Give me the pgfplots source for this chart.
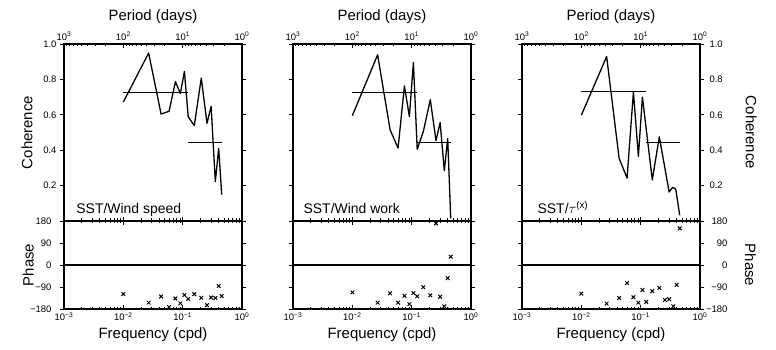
\documentclass[border=0pt]{standalone}
\usepackage{fontspec}
\setmainfont{Liberation Sans}
\usepackage{pgfplots}
\pgfplotsset{compat=1.18}
\pgfplotsset{
  mybase/.style={scale only axis, width=178bp, anchor=south west,
    axis line style={line width=1.1bp},
    every tick/.style={black, line width=0.9bp},
    major tick length=4bp, minor tick length=2.5bp,
    tick label style={font=\fontsize{9.5}{11}\selectfont},
    every axis label/.append style={font=\fontsize{15}{17}\selectfont}},
  mycoh/.style={mybase, height=177bp, ymin=0, ymax=1, xtick=\empty,
    ytick={0.2,0.4,0.6,0.8,1.0}, yticklabels={0.2,0.4,0.6,0.8,1.0},
    tick align=outside, ytick pos=both},
  mypha/.style={mybase, height=88bp, ymin=-180, ymax=180, xtick=\empty,
    ytick={-180,-90,0,90,180}, yticklabels={−180,−90,0,90,180},
    tick align=outside, ytick pos=both},
  myft/.style={mybase, ytick=\empty, tick align=inside,
    xtick={0.001,0.01,0.1,1},
    minor xtick={0.002,0.003,0.004,0.005,0.006,0.007,0.008,0.009,
      0.02,0.03,0.04,0.05,0.06,0.07,0.08,0.09,
      0.2,0.3,0.4,0.5,0.6,0.7,0.8,0.9}},
  mypt/.style={mybase, height=177bp,
    ymin=0, ymax=1, ytick=\empty, tick align=inside,
    xtick pos=right, xticklabel pos=right,
    xtick={1,10,100,1000},
    xticklabels={10\textsuperscript{0},10\textsuperscript{1},10\textsuperscript{2},10\textsuperscript{3}},
    minor xtick={2,3,4,5,6,7,8,9,20,30,40,50,60,70,80,90,200,300,400,500,600,700,800,900},
    xlabel={Period (days)},
    xlabel style={at={(rel axis cs:0.5,1.153)}, anchor=center}},
  mydline/.style={black, line width=1.3bp, mark=none, line join=round},
  mydmark/.style={black, only marks, mark=x, mark size=2.6bp, mark options={line width=1.0bp}},
  mysig/.style={black, line width=1.1bp, mark=none}
}
\begin{document}
\begin{tikzpicture}
\path[use as bounding box] (0,0) rectangle (776bp,350bp);

% ================= Panel 1 =================
\begin{axis}[mycoh, xmode=log, xmin=0.001, xmax=1, at={(64bp,129bp)}, yticklabel pos=left,
  ylabel={Coherence}, ylabel style={at={(rel axis cs:-0.208,0.5)}, anchor=center}]
\addplot[mydline] coordinates {(0.01,0.672) (0.0267,0.949) (0.0433,0.604) (0.059,0.62)
  (0.0755,0.787) (0.0915,0.72) (0.107,0.845) (0.124,0.589) (0.157,0.539) (0.206,0.808)
  (0.257,0.552) (0.302,0.647) (0.355,0.222) (0.405,0.411) (0.455,0.149)};
\addplot[mysig] coordinates {(0.01,0.727) (0.124,0.727)};
\addplot[mysig] coordinates {(0.124,0.443) (0.455,0.443)};
\node[anchor=base west, font=\fontsize{14}{16}\selectfont] at (rel axis cs:0.05,0.04) {SST/Wind speed};
\end{axis}
\begin{axis}[myft, xmode=log, xmin=0.001, xmax=1, height=177bp, at={(64bp,129bp)}, xtick pos=left, xticklabels={}, ymin=0, ymax=1]
\end{axis}
\begin{axis}[mypt, xmode=log, xmin=1, xmax=1000, x dir=reverse, at={(64bp,129bp)}]
\end{axis}
\begin{axis}[mypha, xmode=log, xmin=0.001, xmax=1, at={(64bp,41bp)}, yticklabel pos=left,
  yticklabel style={xshift=-5bp},
  ylabel={Phase}, ylabel style={at={(rel axis cs:-0.20,0.5)}, anchor=center}]
\addplot[mysig] coordinates {(0.001,0) (1,0)};
\addplot[mydmark] coordinates {(0.01,-119) (0.0267,-154) (0.0433,-129) (0.059,-172)
  (0.0755,-137) (0.0915,-157) (0.107,-123) (0.124,-139) (0.157,-119) (0.206,-134)
  (0.257,-164) (0.302,-133) (0.355,-135) (0.405,-86) (0.455,-127)};
\end{axis}
\begin{axis}[myft, xmode=log, xmin=0.001, xmax=1, height=88bp, at={(64bp,41bp)}, ymin=-180, ymax=180, xtick pos=both, xticklabel pos=left,
  xticklabels={10\textsuperscript{−3},10\textsuperscript{−2},10\textsuperscript{−1},10\textsuperscript{0}},
  xlabel={Frequency (cpd)}, xlabel style={at={(rel axis cs:0.5,-0.295)}, anchor=center}]
\end{axis}

% ================= Panel 2 =================
\begin{axis}[mycoh, xmode=log, xmin=0.001, xmax=1, at={(293bp,129bp)}, yticklabels={}]
\addplot[mydline] coordinates {(0.01,0.595) (0.0267,0.939) (0.0433,0.515) (0.059,0.412)
  (0.0755,0.763) (0.0915,0.590) (0.107,0.895) (0.124,0.405) (0.157,0.505) (0.206,0.685)
  (0.257,0.454) (0.302,0.556) (0.355,0.285) (0.405,0.465) (0.455,0.015)};
\addplot[mysig] coordinates {(0.01,0.727) (0.124,0.727)};
\addplot[mysig] coordinates {(0.124,0.442) (0.455,0.442)};
\node[anchor=base west, font=\fontsize{14}{16}\selectfont] at (rel axis cs:0.04,0.04) {SST/Wind work};
\end{axis}
\begin{axis}[myft, xmode=log, xmin=0.001, xmax=1, height=177bp, at={(293bp,129bp)}, xtick pos=left, xticklabels={}, ymin=0, ymax=1]
\end{axis}
\begin{axis}[mypt, xmode=log, xmin=1, xmax=1000, x dir=reverse, at={(293bp,129bp)}]
\end{axis}
\begin{axis}[mypha, xmode=log, xmin=0.001, xmax=1, at={(293bp,41bp)}, yticklabels={}]
\addplot[mysig] coordinates {(0.001,0) (1,0)};
\addplot[mydmark] coordinates {(0.01,-112) (0.0267,-154) (0.0433,-116) (0.059,-154)
  (0.0755,-126) (0.0915,-160) (0.107,-115) (0.124,-128) (0.157,-91) (0.206,-124)
  (0.257,170) (0.302,-130) (0.355,-169) (0.405,-54) (0.455,34)};
\end{axis}
\begin{axis}[myft, xmode=log, xmin=0.001, xmax=1, height=88bp, at={(293bp,41bp)}, ymin=-180, ymax=180, xtick pos=both, xticklabel pos=left,
  xticklabels={10\textsuperscript{−3},10\textsuperscript{−2},10\textsuperscript{−1},10\textsuperscript{0}},
  xlabel={Frequency (cpd)}, xlabel style={at={(rel axis cs:0.5,-0.295)}, anchor=center}]
\end{axis}

% ================= Panel 3 =================
\begin{axis}[mycoh, xmode=log, xmin=0.001, xmax=1, at={(522bp,129bp)}, yticklabel pos=right,
  yticklabel style={xshift=2bp},
  ylabel={Coherence}, ylabel style={at={(rel axis cs:1.288,0.5)}, anchor=center, rotate=180}]
\addplot[mydline] coordinates {(0.01,0.598) (0.0267,0.929) (0.0433,0.355) (0.059,0.242)
  (0.0755,0.73) (0.0915,0.365) (0.107,0.70) (0.157,0.232) (0.206,0.476)
  (0.302,0.164) (0.345,0.19) (0.39,0.18) (0.455,0.032)};
\addplot[mysig] coordinates {(0.01,0.732) (0.124,0.732)};
\addplot[mysig] coordinates {(0.124,0.445) (0.455,0.445)};
\node[anchor=base west, font=\fontsize{14}{16}\selectfont] at (rel axis cs:0.068,0.04) {SST/$\tau$\textsuperscript{(x)}};
\end{axis}
\begin{axis}[myft, xmode=log, xmin=0.001, xmax=1, height=177bp, at={(522bp,129bp)}, xtick pos=left, xticklabels={}, ymin=0, ymax=1]
\end{axis}
\begin{axis}[mypt, xmode=log, xmin=1, xmax=1000, x dir=reverse, at={(522bp,129bp)}]
\end{axis}
\begin{axis}[mypha, xmode=log, xmin=0.001, xmax=1, at={(522bp,41bp)}, yticklabel pos=right,
  yticklabel style={anchor=east, xshift=27bp},
  ylabel={Phase}, ylabel style={at={(rel axis cs:1.283,0.5)}, anchor=center, rotate=180}]
\addplot[mysig] coordinates {(0.001,0) (1,0)};
\addplot[mydmark] coordinates {(0.01,-117) (0.0267,-158) (0.0433,-135) (0.059,-74)
  (0.0755,-132) (0.0915,-154) (0.107,-102) (0.124,-151) (0.157,-107) (0.206,-94)
  (0.257,-143) (0.302,-140) (0.355,-169) (0.405,-81) (0.455,150)};
\end{axis}
\begin{axis}[myft, xmode=log, xmin=0.001, xmax=1, height=88bp, at={(522bp,41bp)}, ymin=-180, ymax=180, xtick pos=both, xticklabel pos=left,
  xticklabels={10\textsuperscript{−3},10\textsuperscript{−2},10\textsuperscript{−1},10\textsuperscript{0}},
  xlabel={Frequency (cpd)}, xlabel style={at={(rel axis cs:0.5,-0.295)}, anchor=center}]
\end{axis}
\end{tikzpicture}
\end{document}
